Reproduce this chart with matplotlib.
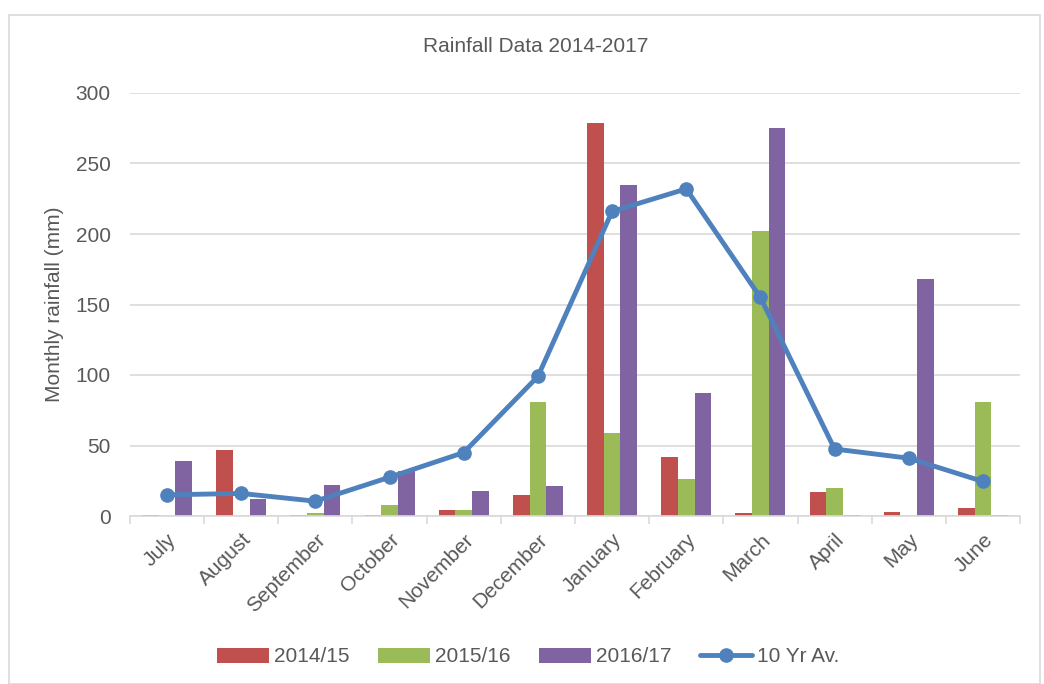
import matplotlib.pyplot as plt
import numpy as np
from matplotlib.patches import Rectangle

plt.rcParams['font.family'] = ['Liberation Sans', 'DejaVu Sans']

months = ['July', 'August', 'September', 'October', 'November', 'December',
          'January', 'February', 'March', 'April', 'May', 'June']
rain_2014 = [1, 47, 0.5, 1, 4.5, 15, 279, 42, 2, 17, 3, 5.5]
rain_2015 = [0, 0, 2, 8, 4, 81, 59, 26, 202, 20, 0, 81]
rain_2016 = [39, 12, 22, 32, 18, 21, 235, 87, 275, 0.5, 168, 1]
avg_10yr = [15, 16, 10.5, 27.5, 45, 99, 216, 232, 155, 47.5, 41, 24.5]

txt = '#595959'
fs = 15
fig = plt.figure(figsize=(10.44, 6.84), dpi=100)
ax = fig.add_axes([130 / 1044, 1 - 516 / 684, 890 / 1044, 423 / 684])

x = np.arange(len(months))
w = 0.225
ax.bar(x - w, rain_2014, w, color='#C0504D', label='2014/15', zorder=2)
ax.bar(x, rain_2015, w, color='#9BBB59', label='2015/16', zorder=2)
ax.bar(x + w, rain_2016, w, color='#8064A2', label='2016/17', zorder=2)
ax.plot(x, avg_10yr, color='#4F81BD', lw=3.5, marker='o', ms=9.5,
        label='10 Yr Av.', zorder=3, solid_capstyle='round')

ax.set_xlim(-0.5, len(months) - 0.5)
ax.set_ylim(0, 300)
ax.set_yticks(range(0, 301, 50))
ax.yaxis.grid(True, color='#D9D9D9', lw=1.2)
ax.set_axisbelow(True)
for s in ['top', 'right', 'left']:
    ax.spines[s].set_visible(False)
ax.spines['bottom'].set_color('#D9D9D9')
ax.spines['bottom'].set_linewidth(1.2)
ax.tick_params(axis='y', length=0, labelsize=fs, colors=txt, pad=14)
ax.set_xticks(x)
ax.set_xticklabels(months, rotation=45, ha='right', rotation_mode='anchor',
                   fontsize=fs, color=txt)
ax.tick_params(axis='x', length=0, pad=10)
ax.set_xticks(np.arange(-0.5, len(months)), minor=True)
ax.tick_params(axis='x', which='minor', length=6, color='#D9D9D9', width=1.2)
ax.set_ylabel('Monthly rainfall (mm)', fontsize=fs, color=txt, labelpad=8)
fig.text(536 / 1044, 1 - 47 / 684, 'Rainfall Data 2014-2017',
         fontsize=fs, color=txt, ha='center', va='center')

h, l = ax.get_legend_handles_labels()
order = [1, 2, 3, 0]
fig.legend([h[i] for i in order], [l[i] for i in order], loc='center',
           bbox_to_anchor=(528 / 1044, 1 - 657 / 684), ncol=4,
           frameon=False, fontsize=fs, labelcolor=txt, handlelength=2.5,
           columnspacing=1.35, handletextpad=0.25)

fig.patches.append(Rectangle((9 / 1044, 0), 1031 / 1044, 1 - 15 / 684,
                             transform=fig.transFigure, fill=False,
                             edgecolor='#D9D9D9', lw=1.2))

fig.savefig('out.png', dpi=100)
